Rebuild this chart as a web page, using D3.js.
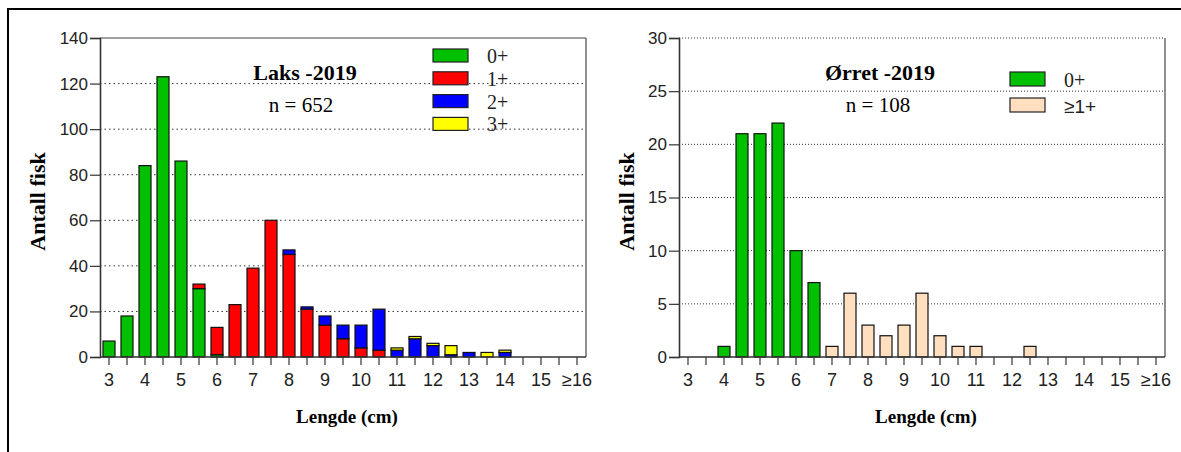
<!DOCTYPE html>
<html>
<head>
<meta charset="utf-8">
<script src="https://cdn.jsdelivr.net/npm/d3@7/dist/d3.min.js"></script>
<style>
  html, body { margin: 0; padding: 0; background: #fff; }
  svg { display: block; }
</style>
</head>
<body>
<svg id="chart" width="1181" height="452"></svg>
<script>
// ---- data ----
const bins = ["3","3.5","4","4.5","5","5.5","6","6.5","7","7.5","8","8.5","9","9.5","10","10.5","11","11.5","12","12.5","13","13.5","14","14.5","15","15.5","16"];
const tickLabels = ["3","","4","","5","","6","","7","","8","","9","","10","","11","","12","","13","","14","","15","","\u226516"];

const laksAge0 = [7,18,84,123,86,30,1,0,0,0,0,0,0,0,0,0,0,0,0,0,0,0,0,0,0,0,0];
const laksAge1 = [0,0,0,0,0,2,12,23,39,60,45,21,14,8,4,3,0,0,0,0,0,0,0,0,0,0,0];
const laksAge2 = [0,0,0,0,0,0,0,0,0,0,2,1,4,6,10,18,3,8,5,1,2,0,2,0,0,0,0];
const laksAge3 = [0,0,0,0,0,0,0,0,0,0,0,0,0,0,0,0,1,1,1,4,0,2,1,0,0,0,0];

const orretAge0 = [0,0,1,21,21,22,10,7,0,0,0,0,0,0,0,0,0,0,0,0,0,0,0,0,0,0,0];
const orretAge1 = [0,0,0,0,0,0,0,0,1,6,3,2,3,6,2,1,1,0,0,1,0,0,0,0,0,0,0];

const laksTicks = [0,20,40,60,80,100,120,140];
const orretTicks = [0,5,10,15,20,25,30];

const laksSeries = [
  {name:"0+", values:laksAge0, color:"#00c000"},
  {name:"1+", values:laksAge1, color:"#ff0000"},
  {name:"2+", values:laksAge2, color:"#0000ff"},
  {name:"3+", values:laksAge3, color:"#ffff00"}
];
const orretSeries = [
  {name:"0+", values:orretAge0, color:"#00c000"},
  {name:"\u22651+", values:orretAge1, color:"#ffdfc0", sans:true}
];

const svg = d3.select("#chart");
const SERIF = "'Liberation Serif','Times New Roman',serif";
const SANS = "'Liberation Sans',Arial,sans-serif";

// outer frame (left and top edges visible)
svg.append("path").attr("d","M8,452 L8,9 L1181,9")
  .attr("fill","none").attr("stroke","#000").attr("stroke-width",2);

function drawChart(cfg) {
  const g = svg.append("g");
  const x = d3.scaleBand().domain(bins).range([cfg.left, cfg.right])
    .paddingInner(1/3).paddingOuter(1/6);
  const y = d3.scaleLinear().domain([0, cfg.ymax]).range([cfg.bottom, cfg.top]);

  // gridlines
  g.append("g").selectAll("line")
    .data(cfg.ticks.filter(t => t > 0 && (cfg.topGrid || t < cfg.ymax)))
    .join("line")
    .attr("x1", cfg.left).attr("x2", cfg.right)
    .attr("y1", d => y(d)).attr("y2", d => y(d))
    .attr("stroke", "#333").attr("stroke-width", 1)
    .attr("stroke-dasharray", cfg.dash);

  // frame top / right
  if (!cfg.topGrid) {
    g.append("line").attr("x1", cfg.left).attr("x2", cfg.right)
      .attr("y1", cfg.top).attr("y2", cfg.top)
      .attr("stroke", "#444").attr("stroke-width", 1);
  }
  g.append("line").attr("x1", cfg.right).attr("x2", cfg.right)
    .attr("y1", cfg.top).attr("y2", cfg.bottom)
    .attr("stroke", "#444").attr("stroke-width", 1.2);

  // stacked bars
  const table = bins.map((b, i) => {
    const row = {bin: b};
    cfg.series.forEach(s => row[s.name] = s.values[i]);
    return row;
  });
  const stack = d3.stack().keys(cfg.series.map(s => s.name))(table);
  stack.forEach((layer, li) => {
    g.append("g").selectAll("rect")
      .data(layer.filter(d => d[1] - d[0] > 0))
      .join("rect")
      .attr("x", d => x(d.data.bin))
      .attr("width", x.bandwidth())
      .attr("y", d => y(d[1]))
      .attr("height", d => y(d[0]) - y(d[1]))
      .attr("fill", cfg.series[li].color)
      .attr("stroke", "#111").attr("stroke-width", 1.2);
  });

  // y axis
  const yAxis = d3.axisLeft(y).tickValues(cfg.ticks).tickSize(10).tickPadding(2)
    .tickFormat(d3.format("d"));
  const ya = g.append("g").attr("transform", `translate(${cfg.left},0)`).call(yAxis);
  ya.select(".domain").attr("stroke", "#333").attr("stroke-width", 1.6);
  ya.selectAll(".tick line").attr("stroke", "#333").attr("stroke-width", 1.2);
  ya.selectAll(".tick text").attr("font-family", SANS).attr("font-size", 17).attr("fill", "#222");

  // x axis
  const xAxis = d3.axisBottom(x).tickSize(8).tickSizeOuter(0).tickPadding(8)
    .tickFormat((d, i) => tickLabels[i]);
  const xa = g.append("g").attr("transform", `translate(0,${cfg.bottom})`).call(xAxis);
  xa.select(".domain").attr("stroke", "#333").attr("stroke-width", 1.6)
    .attr("d", `M${cfg.left - x.range()[0]},0H${cfg.right - x.range()[0]}`);
  xa.select(".domain").attr("d", `M${cfg.left},0H${cfg.right}`);
  xa.selectAll(".tick line").attr("stroke", "#333").attr("stroke-width", 1.2);
  xa.selectAll(".tick text").attr("font-family", SANS).attr("font-size", 18).attr("fill", "#222");

  // axis titles
  g.append("text")
    .attr("transform", `translate(${cfg.ytitleX},${(cfg.top + cfg.bottom) / 2 + 4}) rotate(-90)`)
    .attr("text-anchor", "middle")
    .attr("font-family", SERIF).attr("font-weight", "bold").attr("font-size", 22)
    .text("Antall fisk");
  g.append("text")
    .attr("x", (cfg.left + cfg.right) / 2 + 4).attr("y", 423)
    .attr("text-anchor", "middle")
    .attr("font-family", SERIF).attr("font-weight", "bold").attr("font-size", 19)
    .text("Lengde (cm)");

  // titles
  g.append("text").attr("x", cfg.titleX).attr("y", 80).attr("text-anchor", "middle")
    .attr("font-family", SERIF).attr("font-weight", "bold").attr("font-size", 22)
    .text(cfg.title);
  g.append("text").attr("x", cfg.nX).attr("y", 112).attr("text-anchor", "middle")
    .attr("font-family", SERIF).attr("font-size", 21)
    .text(cfg.nText);

  // legend
  const lg = g.append("g").selectAll("g").data(cfg.series).join("g")
    .attr("transform", (d, i) => `translate(${cfg.legX},${cfg.legY + i * cfg.legStep})`);
  lg.append("rect").attr("width", 35).attr("height", cfg.swH)
    .attr("fill", d => d.color).attr("stroke", "#222").attr("stroke-width", 1.2);
  lg.append("text").attr("x", cfg.legTextDx).attr("y", cfg.swH + 1)
    .attr("font-family", d => d.sans ? SANS : SERIF)
    .attr("font-size", d => d.sans ? 19 : 20)
    .attr("fill", "#222")
    .text(d => d.name);
}

drawChart({
  left: 100, right: 586, top: 38, bottom: 357, ymax: 140, ticks: laksTicks,
  series: laksSeries, dash: "1.5,3", topGrid: false,
  ytitleX: 45, title: "Laks -2019", titleX: 305, nText: "n = 652", nX: 301,
  legX: 433, legY: 49, legStep: 22.8, swH: 13, legTextDx: 54
});
drawChart({
  left: 679, right: 1165, top: 38, bottom: 357, ymax: 30, ticks: orretTicks,
  series: orretSeries, dash: "1,2", topGrid: true,
  ytitleX: 634, title: "\u00d8rret -2019", titleX: 880, nText: "n = 108", nX: 878,
  legX: 1010, legY: 72, legStep: 26, swH: 14, legTextDx: 54
});
</script>
</body>
</html>
